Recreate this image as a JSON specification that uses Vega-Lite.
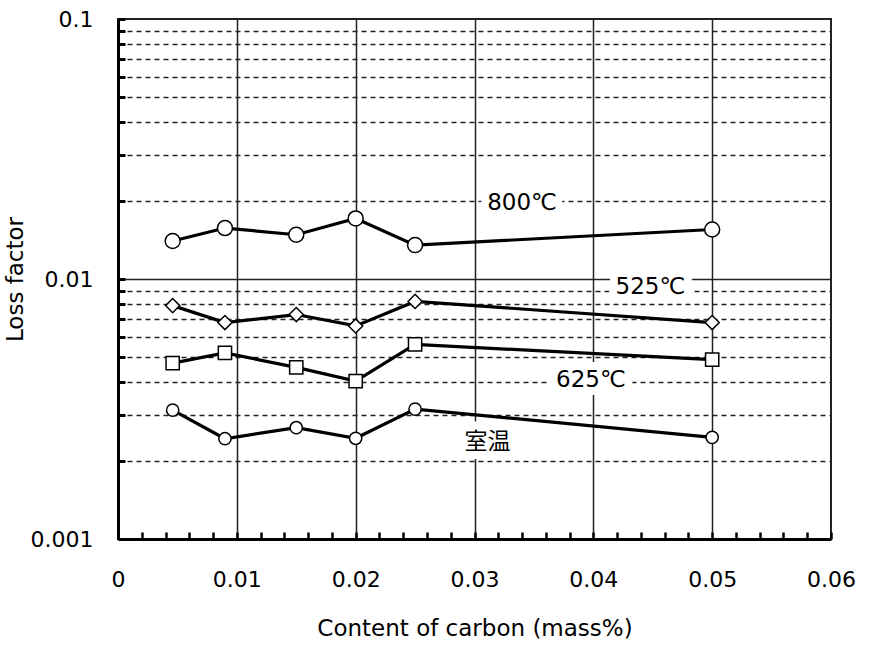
{
  "$schema": "https://vega.github.io/schema/vega-lite/v6.json",
  "width": 713,
  "height": 520,
  "autosize": {"type": "none"},
  "padding": {"left": 118, "top": 19, "right": 39, "bottom": 115},
  "background": "white",
  "config": {
    "view": {"stroke": "#222", "strokeWidth": 2},
    "font": "DejaVu Sans"
  },
  "datasets": {
    "points": [
      {"series": "800℃", "carbon": 0.0046, "loss": 0.0140},
      {"series": "800℃", "carbon": 0.009, "loss": 0.0157},
      {"series": "800℃", "carbon": 0.015, "loss": 0.0148},
      {"series": "800℃", "carbon": 0.02, "loss": 0.0171},
      {"series": "800℃", "carbon": 0.025, "loss": 0.0135},
      {"series": "800℃", "carbon": 0.05, "loss": 0.0155},
      {"series": "525℃", "carbon": 0.0046, "loss": 0.0079},
      {"series": "525℃", "carbon": 0.009, "loss": 0.0068},
      {"series": "525℃", "carbon": 0.015, "loss": 0.0073},
      {"series": "525℃", "carbon": 0.02, "loss": 0.0066},
      {"series": "525℃", "carbon": 0.025, "loss": 0.0082},
      {"series": "525℃", "carbon": 0.05, "loss": 0.0068},
      {"series": "625℃", "carbon": 0.0046, "loss": 0.00475},
      {"series": "625℃", "carbon": 0.009, "loss": 0.0052},
      {"series": "625℃", "carbon": 0.015, "loss": 0.00457},
      {"series": "625℃", "carbon": 0.02, "loss": 0.00405},
      {"series": "625℃", "carbon": 0.025, "loss": 0.0056},
      {"series": "625℃", "carbon": 0.05, "loss": 0.0049},
      {"series": "室温", "carbon": 0.0046, "loss": 0.00313},
      {"series": "室温", "carbon": 0.009, "loss": 0.00243},
      {"series": "室温", "carbon": 0.015, "loss": 0.00268},
      {"series": "室温", "carbon": 0.02, "loss": 0.00244},
      {"series": "室温", "carbon": 0.025, "loss": 0.00316},
      {"series": "室温", "carbon": 0.05, "loss": 0.00246}
    ],
    "labels": [
      {"series": "800℃", "carbon": 0.034, "loss": 0.0196},
      {"series": "525℃", "carbon": 0.0448, "loss": 0.00934},
      {"series": "625℃", "carbon": 0.0398, "loss": 0.00409},
      {"series": "室温", "carbon": 0.0311, "loss": 0.00237}
    ]
  },
  "encoding": {
    "x": {
      "field": "carbon",
      "type": "quantitative",
      "scale": {"domain": [0, 0.06], "nice": false, "zero": false},
      "axis": {
        "title": "Content of carbon (mass%)",
        "titleFont": "DejaVu Sans",
        "titleFontSize": 23,
        "titleFontWeight": "normal",
        "titleColor": "black",
        "titlePadding": 27,
        "values": [0, 0.002, 0.004, 0.006, 0.008, 0.01, 0.012, 0.014, 0.016, 0.018, 0.02, 0.022, 0.024, 0.026, 0.028, 0.03, 0.032, 0.034, 0.036, 0.038, 0.04, 0.042, 0.044, 0.046, 0.048, 0.05, 0.052, 0.054, 0.056, 0.058, 0.06],
        "labelExpr": "indexof([0, 0.01, 0.02, 0.03, 0.04, 0.05, 0.06], datum.value) >= 0 ? format(datum.value, '~g') : ''",
        "labelFont": "DejaVu Sans",
        "labelFontSize": 22,
        "labelColor": "black",
        "labelPadding": 37,
        "labelFlush": false,
        "labelOverlap": false,
        "labelBound": false,
        "grid": true,
        "gridColor": "#222",
        "gridWidth": 1.5,
        "gridOpacity": {"condition": {"test": "indexof([0.01, 0.02, 0.03, 0.04, 0.05], datum.value) >= 0", "value": 1}, "value": 0},
        "tickSize": -7,
        "tickWidth": 2.5,
        "tickColor": "black",
        "domainWidth": 3,
        "domainColor": "black"
      }
    },
    "y": {
      "field": "loss",
      "type": "quantitative",
      "scale": {"type": "log", "domain": [0.001, 0.1], "nice": false},
      "axis": {
        "title": "Loss factor",
        "titleFont": "DejaVu Sans",
        "titleFontSize": 23,
        "titleFontWeight": "normal",
        "titleColor": "black",
        "titlePadding": 3,
        "values": [0.001, 0.002, 0.003, 0.004, 0.005, 0.006, 0.007, 0.008, 0.009, 0.01, 0.02, 0.03, 0.04, 0.05, 0.06, 0.07, 0.08, 0.09, 0.1],
        "labelExpr": "indexof([0.1, 0.01, 0.001], datum.value) >= 0 ? format(datum.value, '~g') : ''",
        "labelFont": "DejaVu Sans",
        "labelFontSize": 22,
        "labelColor": "black",
        "labelPadding": 32,
        "labelOverlap": false,
        "labelBound": false,
        "labelFlush": false,
        "grid": true,
        "gridColor": "#222",
        "gridWidth": 1.3,
        "gridDash": {"condition": {"test": "datum.value == 0.01", "value": []}, "value": [5, 4]},
        "gridOpacity": {"condition": {"test": "datum.value == 0.1 || datum.value == 0.001", "value": 0}, "value": 1},
        "tickSize": -7,
        "tickWidth": 3,
        "tickColor": "black",
        "domainWidth": 3,
        "domainColor": "black"
      }
    }
  },
  "layer": [
    {
      "data": {"name": "labels"},
      "mark": {"type": "text", "fontSize": 23, "font": "DejaVu Sans, Noto Sans CJK JP", "fill": "white", "stroke": "white", "strokeWidth": 16, "strokeJoin": "round", "baseline": "middle", "align": "center"},
      "encoding": {"text": {"field": "series"}}
    },
    {
      "data": {"name": "labels"},
      "mark": {"type": "text", "fontSize": 23, "font": "DejaVu Sans, Noto Sans CJK JP", "fill": "black", "baseline": "middle", "align": "center"},
      "encoding": {"text": {"field": "series"}}
    },
    {
      "data": {"name": "points"},
      "mark": {"type": "line", "color": "black", "strokeWidth": 3.2},
      "encoding": {"detail": {"field": "series"}}
    },
    {
      "data": {"name": "points"},
      "mark": {"type": "point", "filled": true, "fill": "white", "stroke": "black", "strokeWidth": 1.5, "opacity": 1},
      "encoding": {
        "shape": {"field": "series", "type": "nominal", "scale": {"domain": ["800℃", "525℃", "625℃", "室温"], "range": ["circle", "diamond", "square", "circle"]}, "legend": null},
        "size": {"field": "series", "type": "ordinal", "scale": {"domain": ["800℃", "525℃", "625℃", "室温"], "range": [225, 150, 177, 64]}, "legend": null}
      }
    }
  ]
}
